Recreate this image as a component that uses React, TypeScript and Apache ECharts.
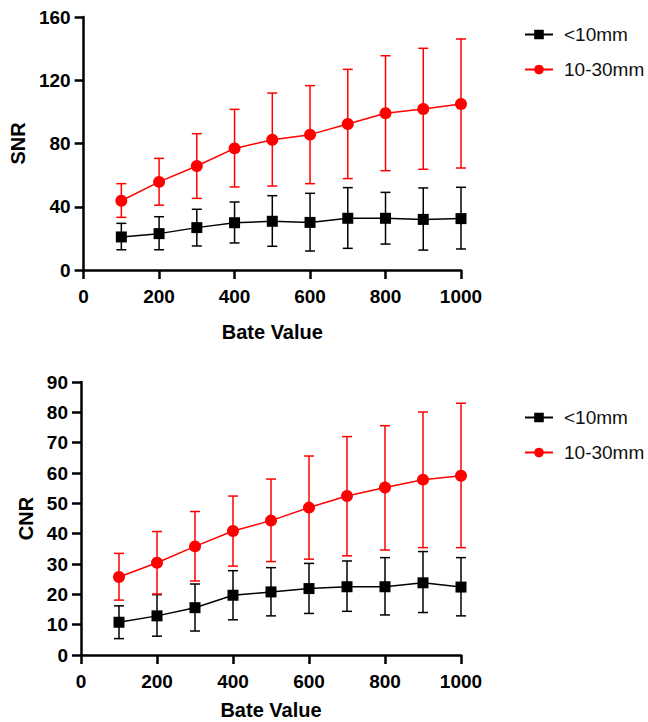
import React, { useEffect, useRef } from "react";
import * as echarts from "echarts";

const xValues = [100, 200, 300, 400, 500, 600, 700, 800, 900, 1000];

// SNR
const snrSmallMean = [20.9, 23.0, 26.8, 29.9, 30.8, 30.1, 32.7, 32.7, 32.0, 32.5];
const snrSmallLow = [12.8, 12.8, 15.2, 17.1, 15.0, 12.0, 13.7, 16.4, 12.6, 13.3];
const snrSmallHigh = [29.5, 33.7, 38.4, 43.0, 47.0, 48.5, 52.1, 49.1, 51.9, 52.3];
const snrLargeMean = [43.8, 55.7, 65.8, 76.9, 82.4, 85.6, 92.3, 99.1, 101.8, 105.0];
const snrLargeLow = [33.3, 41.0, 45.3, 52.5, 53.1, 54.6, 57.8, 62.8, 63.7, 64.5];
const snrLargeHigh = [54.6, 70.6, 86.2, 101.6, 111.9, 116.6, 126.9, 135.5, 140.2, 146.1];

// CNR
const cnrSmallMean = [10.8, 12.9, 15.6, 19.7, 20.8, 21.9, 22.5, 22.5, 23.8, 22.4];
const cnrSmallLow = [5.4, 6.2, 7.9, 11.6, 12.9, 13.7, 14.4, 13.2, 14.0, 12.9];
const cnrSmallHigh = [16.2, 19.9, 23.4, 27.8, 28.8, 30.2, 31.0, 32.1, 34.1, 32.1];
const cnrLargeMean = [25.7, 30.4, 35.8, 40.9, 44.3, 48.6, 52.4, 55.2, 57.8, 59.1];
const cnrLargeLow = [18.1, 20.1, 24.4, 29.3, 30.8, 31.6, 32.7, 34.6, 35.4, 35.4];
const cnrLargeHigh = [33.5, 40.7, 47.3, 52.4, 58.0, 65.6, 72.0, 75.6, 80.1, 83.0];

const seriesNames = ["<10mm", "10-30mm"];
const xTicks = { min: 0, max: 1000, interval: 200 };
const snrTicks = { min: 0, max: 160, interval: 40 };
const cnrTicks = { min: 0, max: 90, interval: 10 };

const BLACK = "#000000";
const RED = "#ff0000";
const FONT = "'Liberation Sans', Arial, sans-serif";

function errData(low: number[], high: number[]) {
  return xValues.map((x, i) => [x, low[i], high[i]]);
}
function lineData(mean: number[]) {
  return xValues.map((x, i) => [x, mean[i]]);
}

function errorBarSeries(name: string, color: string, low: number[], high: number[], idx: number) {
  return {
    type: "custom",
    name: name + " error",
    xAxisIndex: idx,
    yAxisIndex: idx,
    z: 1,
    itemStyle: { color },
    encode: { x: 0, y: [1, 2] },
    data: errData(low, high),
    renderItem: (params: any, api: any) => {
      const x = api.value(0);
      const lo = api.coord([x, api.value(1)]);
      const hi = api.coord([x, api.value(2)]);
      const w = 5;
      const style = { stroke: color, lineWidth: 1.5 };
      return {
        type: "group",
        children: [
          { type: "line", shape: { x1: hi[0], y1: hi[1], x2: lo[0], y2: lo[1] }, style },
          { type: "line", shape: { x1: hi[0] - w, y1: hi[1], x2: hi[0] + w, y2: hi[1] }, style },
          { type: "line", shape: { x1: lo[0] - w, y1: lo[1], x2: lo[0] + w, y2: lo[1] }, style },
        ],
      };
    },
  };
}

function lineSeries(name: string, color: string, mean: number[], idx: number, symbol: string, size: number) {
  return {
    type: "line",
    name,
    xAxisIndex: idx,
    yAxisIndex: idx,
    z: 3,
    data: lineData(mean),
    symbol,
    symbolSize: size,
    showSymbol: true,
    lineStyle: { color, width: 1.5 },
    itemStyle: { color },
  };
}

function xAxis(gridIndex: number, gap: number) {
  return {
    type: "value",
    gridIndex,
    ...xTicks,
    name: "Bate Value",
    nameLocation: "middle",
    nameGap: gap,
    nameTextStyle: { fontFamily: FONT, fontWeight: "bold", fontSize: 20, color: BLACK },
    axisLine: { show: true, lineStyle: { color: BLACK, width: 2.5 } },
    axisTick: { show: true, length: 9, lineStyle: { color: BLACK, width: 2.5 } },
    axisLabel: {
      margin: 17,
      fontFamily: FONT,
      fontWeight: "bold",
      fontSize: 19,
      color: BLACK,
      formatter: (v: number) => String(v),
    },
    splitLine: { show: false },
  };
}

function yAxis(gridIndex: number, ticks: any, name: string, gap: number) {
  return {
    type: "value",
    gridIndex,
    ...ticks,
    name,
    nameLocation: "middle",
    nameGap: gap,
    nameTextStyle: { fontFamily: FONT, fontWeight: "bold", fontSize: 20, color: BLACK },
    axisLine: { show: true, lineStyle: { color: BLACK, width: 2.5 } },
    axisTick: { show: true, length: 9, lineStyle: { color: BLACK, width: 2.5 } },
    axisLabel: {
      margin: 13,
      fontFamily: FONT,
      fontWeight: "bold",
      fontSize: 19,
      color: BLACK,
      formatter: (v: number) => String(v),
    },
    splitLine: { show: false },
  };
}

function legend(top: number) {
  return {
    orient: "vertical",
    left: 519,
    top,
    itemWidth: 28,
    itemHeight: 12,
    itemGap: 16,
    data: seriesNames,
    textStyle: { fontFamily: FONT, fontSize: 19, color: "#111", padding: [0, 0, 0, 6] },
  };
}

export default function App() {
  const ref = useRef<HTMLDivElement>(null);
  useEffect(() => {
    if (!ref.current) return;
    const chart = echarts.init(ref.current, null, { renderer: "svg" });
    chart.setOption({
      animation: false,
      backgroundColor: "#ffffff",
      legend: [legend(20), legend(403)],
      grid: [
        { left: 81, top: 17, width: 380, height: 253 },
        { left: 81, top: 382, width: 380, height: 273 },
      ],
      xAxis: [xAxis(0, 52), xAxis(1, 45)],
      yAxis: [yAxis(0, snrTicks, "SNR", 52), yAxis(1, cnrTicks, "CNR", 41)],
      series: [
        errorBarSeries(seriesNames[0], BLACK, snrSmallLow, snrSmallHigh, 0),
        errorBarSeries(seriesNames[1], RED, snrLargeLow, snrLargeHigh, 0),
        lineSeries(seriesNames[0], BLACK, snrSmallMean, 0, "rect", 11),
        lineSeries(seriesNames[1], RED, snrLargeMean, 0, "circle", 12),
        errorBarSeries(seriesNames[0], BLACK, cnrSmallLow, cnrSmallHigh, 1),
        errorBarSeries(seriesNames[1], RED, cnrLargeLow, cnrLargeHigh, 1),
        lineSeries(seriesNames[0], BLACK, cnrSmallMean, 1, "rect", 11),
        lineSeries(seriesNames[1], RED, cnrLargeMean, 1, "circle", 12),
      ],
    });
    return () => chart.dispose();
  }, []);
  return (
    <div
      ref={ref}
      style={{ position: "fixed", left: 0, top: 0, width: 648, height: 722, background: "#fff" }}
    />
  );
}
